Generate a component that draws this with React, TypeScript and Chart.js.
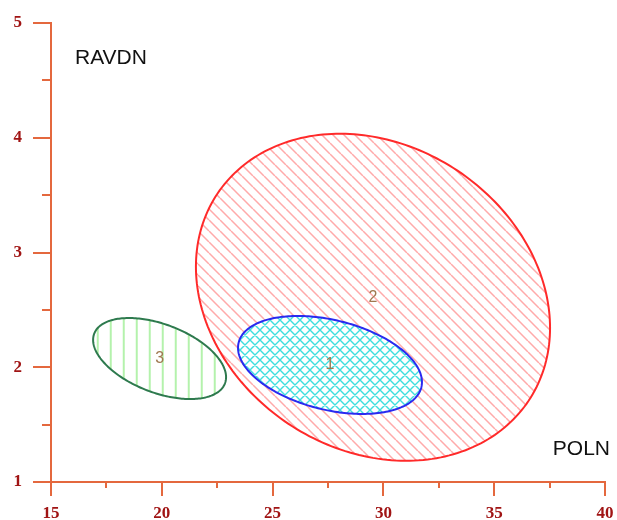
import React, { useEffect, useRef } from "react";
import { Chart, registerables } from "chart.js";

Chart.register(...registerables);

// ---- data ----
const clusterIds = ["1", "2", "3"];
const centerX = [27.59, 29.53, 19.9];
const centerY = [2.02, 2.61, 2.076];
const spreadX = [4.15, 7.99, 3.0];
const spreadY = [0.427, 1.425, 0.353];
const corr = [-0.35, -0.187, -0.46];
const drawOrder = [1, 2, 0];

const xMin = 15, xMax = 40, xStep = 2.5;
const yMin = 1, yMax = 5, yStep = 0.5;
const xTitle = "POLN";
const yTitle = "RAVDN";

const AXIS = "#e4683e";
const TICKLABEL = "#a01414";

function makePattern(ctx: CanvasRenderingContext2D, kind: string, color: string, size: number, lw: number) {
  const c = document.createElement("canvas");
  c.width = size;
  c.height = size;
  const p = c.getContext("2d")!;
  p.strokeStyle = color;
  p.lineWidth = lw;
  p.beginPath();
  if (kind === "back" || kind === "cross") {
    for (const k of [-size, 0, size]) {
      p.moveTo(k, 0);
      p.lineTo(k + size, size);
    }
  }
  if (kind === "cross") {
    for (const k of [-size, 0, size]) {
      p.moveTo(k + size, 0);
      p.lineTo(k, size);
    }
  }
  if (kind === "vert") {
    p.moveTo(size / 2, 0);
    p.lineTo(size / 2, size);
  }
  p.stroke();
  return ctx.createPattern(c, "repeat")!;
}

const styles = [
  { stroke: "#2a2af0", hatch: "cross", hatchColor: "#3fdede", size: 10, lw: 1.4, clearFirst: true },
  { stroke: "#ff2a2a", hatch: "back", hatchColor: "#ffaaaa", size: 11, lw: 1.5, clearFirst: false },
  { stroke: "#2e7a4e", hatch: "vert", hatchColor: "#b4f2ac", size: 13.5, lw: 2, clearFirst: false },
];

const ellipsePlugin = {
  id: "ellipses",
  beforeDatasetsDraw(chart: any) {
    const ctx: CanvasRenderingContext2D = chart.ctx;
    const xs = chart.scales.x;
    const ys = chart.scales.y;
    ctx.save();
    for (const i of drawOrder) {
      const cx = xs.getPixelForValue(centerX[i]);
      const cy = ys.getPixelForValue(centerY[i]);
      const w = xs.getPixelForValue(centerX[i] + spreadX[i]) - cx;
      const h = ys.getPixelForValue(centerY[i] + spreadY[i]) - cy;
      const r = corr[i];
      const s = Math.sqrt(1 - r * r);
      const N = 240;
      ctx.beginPath();
      for (let k = 0; k <= N; k++) {
        const t = (2 * Math.PI * k) / N;
        const x = cx + w * Math.cos(t);
        const y = cy + h * (r * Math.cos(t) + s * Math.sin(t));
        if (k === 0) ctx.moveTo(x, y);
        else ctx.lineTo(x, y);
      }
      ctx.closePath();
      const st = styles[i];
      if (st.clearFirst) {
        ctx.fillStyle = "#ffffff";
        ctx.fill();
      }
      ctx.fillStyle = makePattern(ctx, st.hatch, st.hatchColor, st.size, st.lw);
      ctx.fill();
      ctx.strokeStyle = st.stroke;
      ctx.lineWidth = 2;
      ctx.stroke();
    }
    // cluster labels
    ctx.fillStyle = "#a07850";
    ctx.font = "16px 'Liberation Sans', Arial, sans-serif";
    ctx.textAlign = "center";
    ctx.textBaseline = "middle";
    for (let i = 0; i < clusterIds.length; i++) {
      ctx.fillText(clusterIds[i], xs.getPixelForValue(centerX[i]), ys.getPixelForValue(centerY[i]));
    }
    ctx.restore();
  },
  afterDraw(chart: any) {
    const ctx: CanvasRenderingContext2D = chart.ctx;
    const xs = chart.scales.x;
    const ys = chart.scales.y;
    const area = chart.chartArea;
    ctx.save();
    ctx.strokeStyle = AXIS;
    ctx.lineWidth = 2;
    ctx.beginPath();
    for (let v = xMin; v <= xMax + 1e-9; v += xStep) {
      const px = Math.round(xs.getPixelForValue(v));
      const major = Math.abs(v % 5) < 1e-9;
      ctx.moveTo(px, area.bottom);
      ctx.lineTo(px, area.bottom + (major ? 14 : 6));
    }
    for (let v = yMin; v <= yMax + 1e-9; v += yStep) {
      const py = Math.round(ys.getPixelForValue(v));
      const major = Math.abs(v % 1) < 1e-9;
      ctx.moveTo(area.left, py);
      ctx.lineTo(area.left - (major ? 18 : 9), py);
    }
    ctx.stroke();
    // axis titles inside plot
    ctx.fillStyle = "#111111";
    ctx.font = "21px 'Liberation Sans', Arial, sans-serif";
    ctx.textBaseline = "middle";
    ctx.textAlign = "left";
    ctx.fillText(yTitle, area.left + 24, area.top + 35);
    ctx.textAlign = "right";
    ctx.fillText(xTitle, area.right + 5, area.bottom - 33);
    ctx.restore();
  },
};

export default function App() {
  const ref = useRef<HTMLCanvasElement>(null);
  useEffect(() => {
    if (!ref.current) return;
    const chart = new Chart(ref.current, {
      type: "scatter",
      data: {
        datasets: [
          {
            data: centerX.map((x, i) => ({ x, y: centerY[i] })),
            pointRadius: 0,
            showLine: false,
          },
        ],
      },
      options: {
        responsive: false,
        animation: false,
        layout: { padding: { top: 23, right: 12, left: 0, bottom: 0 } },
        plugins: { legend: { display: false }, tooltip: { enabled: false } },
        scales: {
          x: {
            type: "linear",
            min: xMin,
            max: xMax,
            grid: { display: false, drawTicks: false },
            border: { display: true, color: AXIS, width: 2 },
            afterFit: (s: any) => {
              s.height = 38;
              s.paddingLeft = 0;
              s.paddingRight = 0;
            },
            ticks: {
              stepSize: xStep,
              autoSkip: false,
              maxRotation: 0,
              padding: 21,
              color: TICKLABEL,
              font: { family: "'Liberation Serif', 'Times New Roman', serif", size: 17, weight: "bold" },
              callback: (v: any) => (Math.abs(Number(v) % 5) < 1e-9 ? String(v) : ""),
            },
          },
          y: {
            type: "linear",
            min: yMin,
            max: yMax,
            grid: { display: false, drawTicks: false },
            border: { display: true, color: AXIS, width: 2 },
            afterFit: (s: any) => {
              s.width = 51;
              s.paddingTop = 0;
              s.paddingBottom = 0;
            },
            ticks: {
              stepSize: yStep,
              autoSkip: false,
              padding: 29,
              color: TICKLABEL,
              font: { family: "'Liberation Serif', 'Times New Roman', serif", size: 17, weight: "bold" },
              callback: (v: any) => (Math.abs(Number(v) % 1) < 1e-9 ? String(v) : ""),
            },
          },
        },
      },
      plugins: [ellipsePlugin],
    });
    return () => chart.destroy();
  }, []);
  return (
    <div style={{ position: "fixed", left: 0, top: 0, width: 617, height: 520, background: "#fff" }}>
      <canvas ref={ref} width={617} height={520} />
    </div>
  );
}
